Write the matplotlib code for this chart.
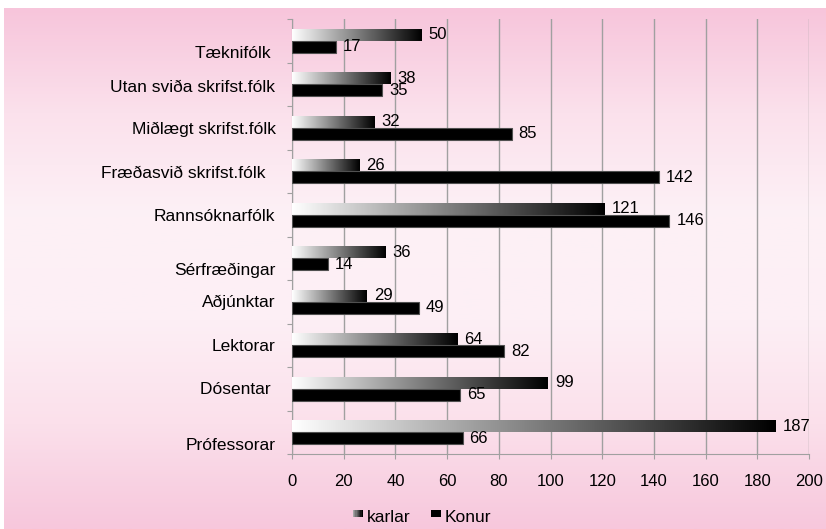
import numpy as np
import matplotlib.pyplot as plt
import matplotlib.transforms as mtransforms
from matplotlib.colors import LinearSegmentedColormap
from matplotlib.patches import Rectangle
from matplotlib.legend_handler import HandlerBase

# Data (bottom to top, as drawn)
categories = ['Prófessorar', 'Dósentar ', 'Lektorar', 'Aðjúnktar', 'Sérfræðingar',
              'Rannsóknarfólk', 'Fræðasvið skrifst.fólk  ', 'Miðlægt skrifst.fólk',
              'Utan sviða skrifst.fólk', 'Tæknifólk ']
karlar = [187, 99, 64, 29, 36, 121, 26, 32, 38, 50]
konur = [66, 65, 82, 49, 14, 146, 142, 85, 35, 17]
x_ticks = [0, 20, 40, 60, 80, 100, 120, 140, 160, 180, 200]

# vertical nudge of the category labels (pixels, down)
label_shift = [13, 1, 1, 1, 12, 2, 2, 2, 3, 13]

plt.rcParams['font.family'] = ['Liberation Sans', 'DejaVu Sans']

W, H = 826, 529
fig = plt.figure(figsize=(W / 100, H / 100), dpi=100)

# pink gradient background
bg = fig.add_axes([4 / W, 0, 1 - 4 / W, 1 - 8 / H])
pink = LinearSegmentedColormap.from_list(
    'bg', ['#f7c5db', '#fbe1ec', '#fdf1f6', '#fdeff5', '#fbe0eb', '#f7c7dc'])
bg.imshow(np.linspace(0, 1, 256).reshape(-1, 1), aspect='auto', cmap=pink,
          extent=[0, 1, 0, 1], origin='upper')
bg.axis('off')

ax = fig.add_axes([292 / W, 75 / H, 517 / W, 435 / H])
ax.set_facecolor('none')

y = np.arange(len(categories))
h = 0.28
bw = LinearSegmentedColormap.from_list('bw', ['#ffffff', '#000000'])
grad = np.linspace(0, 1, 256).reshape(1, -1)

kar = ax.barh(y + h / 2, karlar, height=h, facecolor='none', edgecolor='none', zorder=3)
for rect in kar:
    x0, y0 = rect.get_xy()
    im = ax.imshow(grad, extent=[x0, x0 + rect.get_width(), y0, y0 + rect.get_height()],
                   cmap=bw, aspect='auto', zorder=3, interpolation='bilinear')
    im.set_clip_path(rect)
kon = ax.barh(y - h / 2, konur, height=h, color='black', edgecolor='#505050',
              linewidth=0.8, zorder=3)

for cont in (kar, kon):
    for t in ax.bar_label(cont, padding=5, fontsize=12):
        t.set_transform(t.get_transform() +
                        mtransforms.ScaledTranslation(0, -1.5 / 100, fig.dpi_scale_trans))

ax.set_xlim(0, 200)
ax.set_ylim(-0.5, len(categories) - 0.5)
ax.set_xticks(x_ticks)
ax.set_yticks(np.arange(-0.5, len(categories), 1))
ax.set_yticklabels([])
ax.xaxis.grid(True, color='#a0a0a0', linewidth=1)
ax.set_axisbelow(True)
for s in ['top', 'right']:
    ax.spines[s].set_visible(False)
for s in ['left', 'bottom']:
    ax.spines[s].set_color('#a0a0a0')
ax.tick_params(axis='both', direction='out', length=3.6, color='#a0a0a0')
ax.tick_params(axis='x', labelsize=12, pad=10.5)

# category labels
for yi, cat, off in zip(y, categories, label_shift):
    tr = mtransforms.blended_transform_factory(ax.transAxes, ax.transData) + \
        mtransforms.ScaledTranslation(-16.5 / 100, -off / 100, fig.dpi_scale_trans)
    ax.text(0, yi, cat, transform=tr, ha='right', va='center', fontsize=12.5)


class SmallBoxHandler(HandlerBase):
    # small box sitting high next to the text, optionally with a grey ramp
    def __init__(self, ramp=False):
        super().__init__()
        self.ramp = ramp

    def create_artists(self, legend, orig_handle, xdescent, ydescent, width, height,
                       fontsize, trans):
        bh = height * 0.7
        yb = -ydescent + height * 0.45
        if not self.ramp:
            return [Rectangle((-xdescent, yb), width, bh, facecolor='black',
                              edgecolor='none', transform=trans)]
        n = 8
        arts = []
        for i in range(n):
            c = str(0.65 * (1 - i / (n - 1)))
            arts.append(Rectangle((-xdescent + i * width / n, yb), width / n * 1.05, bh,
                                  facecolor=c, edgecolor='none', transform=trans))
        return arts


h_kar = Rectangle((0, 0), 1, 1)
h_kon = Rectangle((0, 0), 1, 1, facecolor='black')
fig.legend([h_kar, h_kon], ['karlar', 'Konur'], loc='center',
           bbox_to_anchor=(422 / W, 1 - 518 / H), ncol=2, frameon=False, fontsize=12.5,
           handlelength=0.6, handleheight=0.55, handletextpad=0.2, columnspacing=1.2,
           handler_map={h_kar: SmallBoxHandler(ramp=True), h_kon: SmallBoxHandler()})

fig.savefig('out.png', dpi=100)
